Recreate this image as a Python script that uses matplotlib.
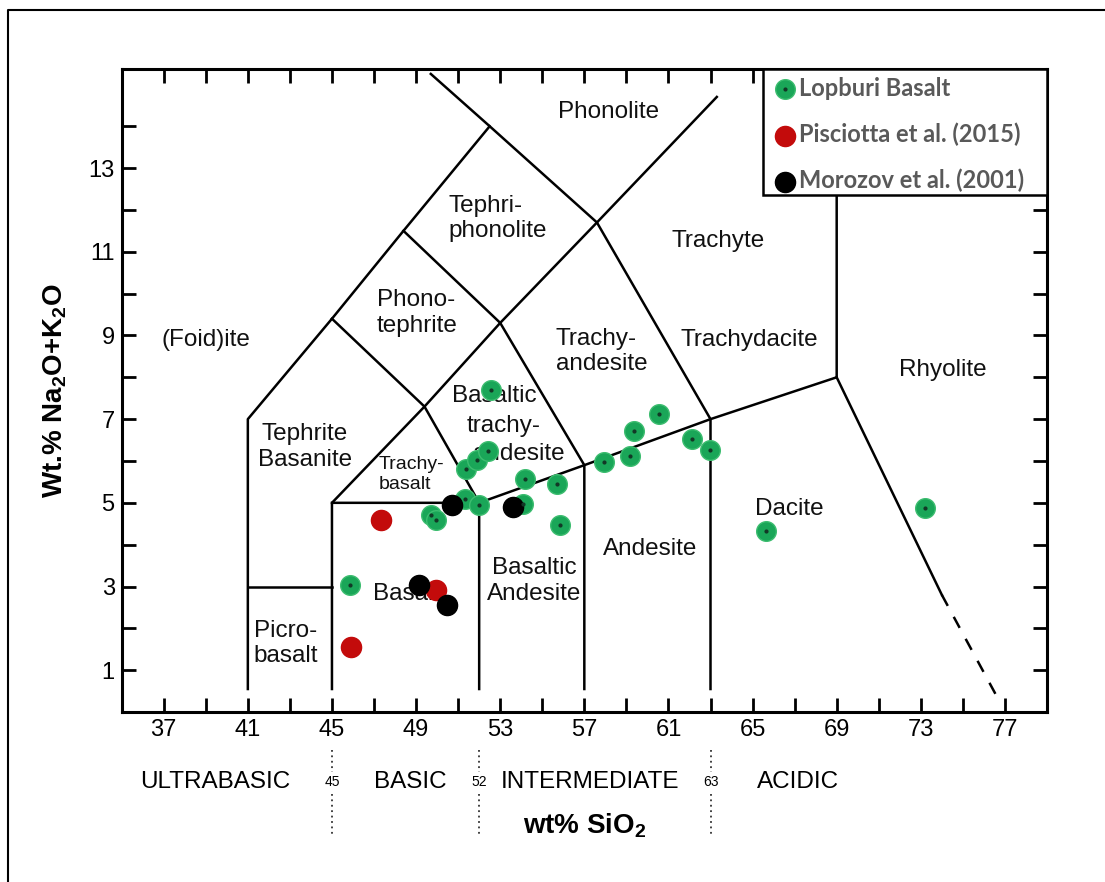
import matplotlib.pyplot as plt
from matplotlib.lines import Line2D
from matplotlib.patches import Rectangle
from matplotlib.legend_handler import HandlerTuple

plt.rcParams['font.family'] = ['Liberation Sans', 'DejaVu Sans']
plt.rcParams['mathtext.fontset'] = 'custom'
plt.rcParams['mathtext.rm'] = 'Liberation Sans'
plt.rcParams['mathtext.bf'] = 'Liberation Sans:bold'

# sample compositions: SiO2 (wt%) and Na2O+K2O (wt%)
lopburi_sio2 = [52.55, 51.37, 51.89, 52.44, 51.33, 52.01, 49.70, 49.95, 45.84,
                54.18, 55.69, 54.10, 55.86, 57.95, 59.17, 59.36, 60.55, 62.10,
                62.97, 65.63, 73.22]
lopburi_alk = [7.69, 5.81, 6.03, 6.23, 5.08, 4.94, 4.70, 4.60, 3.03,
               5.56, 5.44, 4.96, 4.47, 5.98, 6.11, 6.71, 7.13, 6.53,
               6.26, 4.32, 4.88]
pisciotta_sio2 = [47.34, 49.96, 45.92]
pisciotta_alk = [4.59, 2.92, 1.56]
morozov_sio2 = [50.70, 53.60, 49.12, 50.46]
morozov_alk = [4.94, 4.90, 3.03, 2.56]

# TAS field boundaries (Le Bas et al.)
boundaries = [
    [(41, 0.55), (41, 7), (45, 9.4), (48.4, 11.5), (52.5, 14), (49.7, 15.25)],
    [(41, 3), (45, 3)],
    [(45, 0.55), (45, 5), (49.4, 7.3), (53, 9.3), (57.6, 11.7), (63.3, 14.7)],
    [(45, 9.4), (49.4, 7.3), (52, 5), (52, 0.55)],
    [(45, 5), (52, 5), (57, 5.9), (63, 7), (69, 8), (69, 13)],
    [(48.4, 11.5), (53, 9.3), (57, 5.9), (57, 0.55)],
    [(52.5, 14), (57.6, 11.7), (63, 7), (63, 0.55)],
    [(69, 8), (74, 2.8)],
]
dashed_boundary = [(74, 2.8), (76.8, 0.2)]

# field names: text, x, y, alignment, size
field_labels = [
    ("Phonolite", 58.16, 14.35, 'center', 17.5),
    ("Tephri-\nphonolite", 50.52, 11.79, 'left', 17.5),
    ("Trachyte", 63.35, 11.25, 'center', 17.5),
    ("Phono-\ntephrite", 47.14, 9.54, 'left', 17.5),
    ("(Foid)ite", 39.0, 8.9, 'center', 17.5),
    ("Trachy-\nandesite", 55.65, 8.61, 'left', 17.5),
    ("Trachydacite", 64.85, 8.9, 'center', 17.5),
    ("Rhyolite", 74.07, 8.18, 'center', 17.5),
    ("Basaltic", 52.7, 7.56, 'center', 17.5),
    ("trachy-", 53.14, 6.83, 'center', 17.5),
    ("andesite", 53.9, 6.16, 'center', 17.5),
    ("Tephrite\nBasanite", 43.72, 6.33, 'center', 17.5),
    ("Trachy-\nbasalt", 47.2, 5.67, 'left', 14),
    ("Basalt", 48.57, 2.81, 'center', 17.5),
    ("Basaltic\nAndesite", 54.6, 3.13, 'center', 17.5),
    ("Andesite", 60.15, 3.89, 'center', 17.5),
    ("Picro-\nbasalt", 41.29, 1.64, 'left', 17.5),
    ("Dacite", 66.77, 4.86, 'center', 17.5),
]

# silica classes below the axis
class_names = ["ULTRABASIC", "BASIC", "INTERMEDIATE", "ACIDIC"]
class_x = [39.43, 48.72, 57.29, 67.15]
class_limits = [45, 52, 63]

fig = plt.figure(figsize=(11.05, 8.82), dpi=100)
ax = fig.add_axes([0.1101, 0.1927, 0.8374, 0.7287])

for seg in boundaries:
    xs, ys = zip(*seg)
    ax.plot(xs, ys, color='black', lw=1.8, zorder=2)
xs, ys = zip(*dashed_boundary)
ax.plot(xs, ys, color='black', lw=1.8, linestyle=(0, (5, 5)), zorder=2)

for text, x, y, ha, size in field_labels:
    ax.text(x, y, text, ha=ha, va='center', multialignment=ha,
            fontsize=size, color='#111111', zorder=3)

green = ax.scatter(lopburi_sio2, lopburi_alk, s=200, color='#1aa658',
                   edgecolors='#3dbd70', linewidths=1, zorder=4)
green_dot = ax.scatter(lopburi_sio2, lopburi_alk, s=4, color='#123826',
                       zorder=5)
red = ax.scatter(pisciotta_sio2, pisciotta_alk, s=210, color='#c30b0b',
                 zorder=4)
black = ax.scatter(morozov_sio2, morozov_alk, s=210, color='black', zorder=4)

ax.set_xlim(35, 79)
ax.set_ylim(0, 15.36)
ax.set_xticks(range(37, 78, 4))
ax.set_xticks(range(39, 77, 4), minor=True)
ax.set_yticks(range(1, 14, 2))
ax.set_yticks(range(2, 15, 2), minor=True)
ax.tick_params(which='both', direction='in', length=10, width=2,
               top=True, right=True, labelsize=17, pad=5)
for sp in ax.spines.values():
    sp.set_linewidth(2.2)

ax.set_xlabel(r'wt% SiO$_\mathbf{2}$', fontsize=20, fontweight='bold', va='center')
ax.xaxis.set_label_coords(0.5, -0.177)
ax.set_ylabel(r'Wt.% Na$_\mathbf{2}$O+K$_\mathbf{2}$O', fontsize=20,
              fontweight='bold', va='center')
ax.yaxis.set_label_coords(-0.072, 0.5)

# silica classes and their dotted limits
trans = ax.get_xaxis_transform()
for name, x in zip(class_names, class_x):
    ax.text(x, -0.109, name, transform=trans, ha='center', va='center',
            fontsize=17.5, clip_on=False)
for x in class_limits:
    ax.text(x, -0.109, str(x), transform=trans, ha='center', va='center',
            fontsize=10, clip_on=False)
    for y0, y1 in [(-0.059, -0.093), (-0.127, -0.191)]:
        ax.plot([x, x], [y0, y1], transform=trans, color='#333333', lw=1.3,
                linestyle=(0, (1, 2)), clip_on=False)

# legend box drawn separately so its padding can be set freely
ax.add_patch(Rectangle((0.6931, 0.8044), 0.3069, 0.1956, transform=ax.transAxes,
                       facecolor='white', edgecolor='black', lw=1.8,
                       zorder=9, clip_on=False))
leg = ax.legend([(green, green_dot), red, black],
                ['Lopburi Basalt', 'Pisciotta et al. (2015)', 'Morozov et al. (2001)'],
                handler_map={tuple: HandlerTuple(ndivide=1)},
                loc='upper left', bbox_to_anchor=(0.7067, 0.9888),
                borderaxespad=0, borderpad=0, frameon=False,
                handlelength=0.8, handletextpad=0.2,
                labelspacing=0.97, prop={'family': 'Lato', 'weight': 'bold', 'size': 17})
leg.set_zorder(10)
for t in leg.get_texts():
    t.set_color('#595959')

# outer border of the figure panel
fig.add_artist(Line2D([7.5 / 1105, 7.5 / 1105, 1], [0, 1 - 10 / 882, 1 - 10 / 882],
                      color='black', lw=1.5, transform=fig.transFigure))

fig.savefig('out.png', dpi=100)
